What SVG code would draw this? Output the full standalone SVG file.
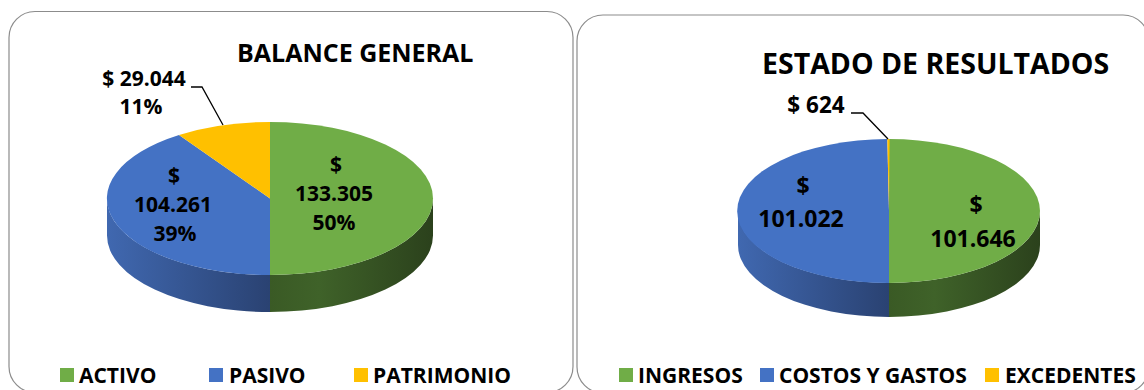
<svg xmlns="http://www.w3.org/2000/svg" width="1144" height="390" viewBox="0 0 1144 390">
<defs>
<style>
.panel{fill:#fff;stroke:#8c8c8c;stroke-width:1.2}
text{font-family:"Open Sans","Noto Sans","Liberation Sans",sans-serif;font-weight:700;fill:#000}
.title{font-size:25px}
.lbl{font-size:21px;text-anchor:middle}
.lbl2{font-size:23px;text-anchor:middle}
.leg{font-size:21px}
.lead{fill:none;stroke:#000;stroke-width:1.3}
.g{fill:#70AD47}.b{fill:#4472C4}.y{fill:#FFC000}
</style>
<linearGradient id="bs1" gradientUnits="userSpaceOnUse" x1="107" y1="0" x2="270" y2="0">
<stop offset="0" stop-color="#4068B0"/><stop offset="1" stop-color="#2A4272"/></linearGradient>
<linearGradient id="gs1" gradientUnits="userSpaceOnUse" x1="270" y1="0" x2="433" y2="0">
<stop offset="0" stop-color="#3A5A25"/><stop offset="0.3" stop-color="#3F6229"/><stop offset="1" stop-color="#2B411C"/></linearGradient>
<linearGradient id="bs2" gradientUnits="userSpaceOnUse" x1="738" y1="0" x2="889" y2="0">
<stop offset="0" stop-color="#4068B0"/><stop offset="1" stop-color="#2A4272"/></linearGradient>
<linearGradient id="gs2" gradientUnits="userSpaceOnUse" x1="889" y1="0" x2="1040" y2="0">
<stop offset="0" stop-color="#3A5A25"/><stop offset="0.3" stop-color="#3F6229"/><stop offset="1" stop-color="#2B411C"/></linearGradient>
</defs>
<rect width="1144" height="390" fill="#fff"/>

<g id="panel-balance">
<rect class="panel" x="9" y="11.5" width="564" height="381" rx="26"/>
<text class="title" x="237" y="62">BALANCE GENERAL</text>
</g>
<g id="pie-balance">
<path fill="url(#bs1)" d="M107,198.5 L107,235.5 A163,76.5 0 0 0 270,312 L270,275 A163,76.5 0 0 1 107,198.5 Z"/>
<path fill="url(#gs1)" d="M270,275 A163,76.5 0 0 0 433,198.5 L433,235.5 A163,76.5 0 0 1 270,312 Z"/>
<path class="g" d="M270,198.5 L270,122 A163,76.5 0 0 1 270,275 Z"/>
<path class="b" d="M270,198.5 L270,275 A163,76.5 0 0 1 179,135 Z"/>
<path class="y" d="M270,198.5 L179,135 A163,76.5 0 0 1 270,122 Z"/>
</g>
<g id="slice-activo">
<text class="lbl" x="336" y="172">$</text>
<text class="lbl" x="334" y="201">133.305</text>
<text class="lbl" x="334" y="230">50%</text>
</g>
<g id="slice-pasivo">
<text class="lbl" x="174" y="183">$</text>
<text class="lbl" x="173" y="212">104.261</text>
<text class="lbl" x="175" y="241">39%</text>
</g>
<g id="slice-patrimonio">
<text class="lbl" x="144" y="86">$ 29.044</text>
<text class="lbl" x="141" y="114">11%</text>
</g>
<g id="legend-balance">
<rect class="g" x="60" y="368" width="14" height="14"/>
<text class="leg" x="79" y="383">ACTIVO</text>
<rect class="b" x="209" y="368" width="14" height="14"/>
<text class="leg" x="229" y="383">PASIVO</text>
<rect class="y" x="354" y="368" width="14" height="14"/>
<text class="leg" x="373" y="383">PATRIMONIO</text>
</g>

<g id="panel-resultados">
<rect class="panel" x="577" y="15" width="572" height="378" rx="26"/>
<text class="title" x="762" y="74" style="font-size:28.5px">ESTADO DE RESULTADOS</text>
</g>
<g id="pie-resultados">
<path fill="url(#bs2)" d="M738,211 L738,245 A151,72 0 0 0 889,317 L889,283 A151,72 0 0 1 738,211 Z"/>
<path fill="url(#gs2)" d="M889,283 A151,72 0 0 0 1040,211 L1040,245 A151,72 0 0 1 889,317 Z"/>
<path class="g" d="M889,211 L889,139 A151,72 0 0 1 889,283 Z"/>
<path class="b" d="M889,211 L889,283 A151,72 0 0 1 887.3,139 Z"/>
<path class="y" d="M889,211 L887.3,139 A151,72 0 0 1 889.6,139 Z"/>
</g>
<g id="slice-ingresos">
<text class="lbl2" x="976" y="213">$</text>
<text class="lbl2" x="973" y="247">101.646</text>
</g>
<g id="slice-costos">
<text class="lbl2" x="803" y="194">$</text>
<text class="lbl2" x="801" y="227">101.022</text>
</g>
<g id="slice-excedentes">
<text class="lbl" x="816" y="113" style="font-size:22.5px">$ 624</text>
</g>
<g id="legend-resultados">
<rect class="g" x="619" y="368" width="14" height="14"/>
<text class="leg" x="638" y="383">INGRESOS</text>
<rect class="b" x="760" y="368" width="14" height="14"/>
<text class="leg" x="779" y="383">COSTOS Y GASTOS</text>
<rect class="y" x="985" y="368" width="14" height="14"/>
<text class="leg" x="1005" y="383">EXCEDENTES</text>
</g>

<g id="connectors">
<polyline class="lead" points="191,87 202,87 223,125"/>
<polyline class="lead" points="851,113 863,113 888,139"/>
</g>
</svg>
